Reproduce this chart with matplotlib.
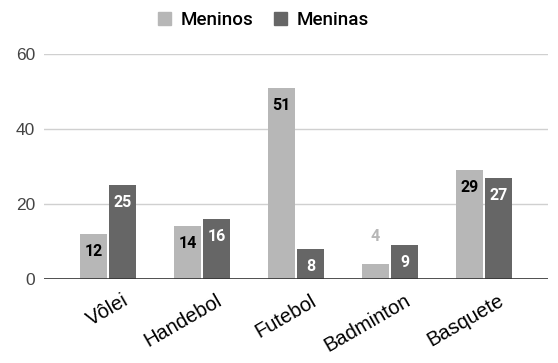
import matplotlib.pyplot as plt
import matplotlib.patches as mpatches
import matplotlib.transforms as mtransforms
import numpy as np

plt.rcParams['font.family'] = ['Liberation Sans', 'DejaVu Sans']

categories = ['Vôlei', 'Handebol', 'Futebol', 'Badminton', 'Basquete']
meninos = [12, 14, 51, 4, 29]
meninas = [25, 16, 8, 9, 27]
series_names = ['Meninos', 'Meninas']

light = '#b7b7b7'
dark = '#666666'

fig = plt.figure(figsize=(5.58, 3.63), dpi=100)
ax = fig.add_axes([0.0789, 0.2314, 0.903, 0.62])

x = np.arange(len(categories))
w = 0.29
off = 0.155
b1 = ax.bar(x - off, meninos, w, color=light, zorder=3)
b2 = ax.bar(x + off, meninas, w, color=dark, zorder=3)

# value labels inside the top of each bar (short bar gets it above)
for bars, vals, col, txtcol in [(b1, meninos, light, 'black'), (b2, meninas, dark, 'white')]:
    for rect, v in zip(bars, vals):
        cx = rect.get_x() + rect.get_width() / 2
        if v < 6:
            ax.annotate(str(v), (cx, v), xytext=(0, 19.5), textcoords='offset points',
                        ha='center', va='center', fontsize=11.5, fontweight='bold',
                        color=col, family=['Roboto', 'DejaVu Sans'])
        else:
            ax.annotate(str(v), (cx, v), xytext=(0, -12.5), textcoords='offset points',
                        ha='center', va='center', fontsize=11.5, fontweight='bold',
                        color=txtcol, family=['Roboto', 'DejaVu Sans'])

ax.set_xlim(-0.68, 4.68)
ax.set_ylim(0, 60)
ax.set_yticks([0, 20, 40, 60])
ax.grid(axis='y', color='#d0d0d0', linewidth=1, zorder=0)
ax.axhline(0, color='#333333', linewidth=1.2, zorder=4)
for s in ax.spines.values():
    s.set_visible(False)
ax.tick_params(axis='both', length=0)
ax.tick_params(axis='y', labelsize=12.5, labelcolor='#444444', pad=6.5)
ax.set_xticks(x)
ax.set_xticklabels(categories, rotation=30, ha='right', va='top',
                   rotation_mode='anchor', fontsize=14.5)
ax.tick_params(axis='x', pad=0)
shift = mtransforms.ScaledTranslation(0.14, -0.12, fig.dpi_scale_trans)
for lab in ax.get_xticklabels():
    lab.set_transform(lab.get_transform() + shift)

handles = [mpatches.Patch(color=light), mpatches.Patch(color=dark)]
fig.legend(handles, series_names, loc='center', bbox_to_anchor=(0.472, 0.945), ncol=2,
           frameon=False, handlelength=0.7, handleheight=0.7,
           handletextpad=0.5, columnspacing=1.1,
           prop={'family': ['Roboto', 'DejaVu Sans'], 'size': 13.5, 'weight': 'medium'})

fig.savefig('out.png', dpi=100)
